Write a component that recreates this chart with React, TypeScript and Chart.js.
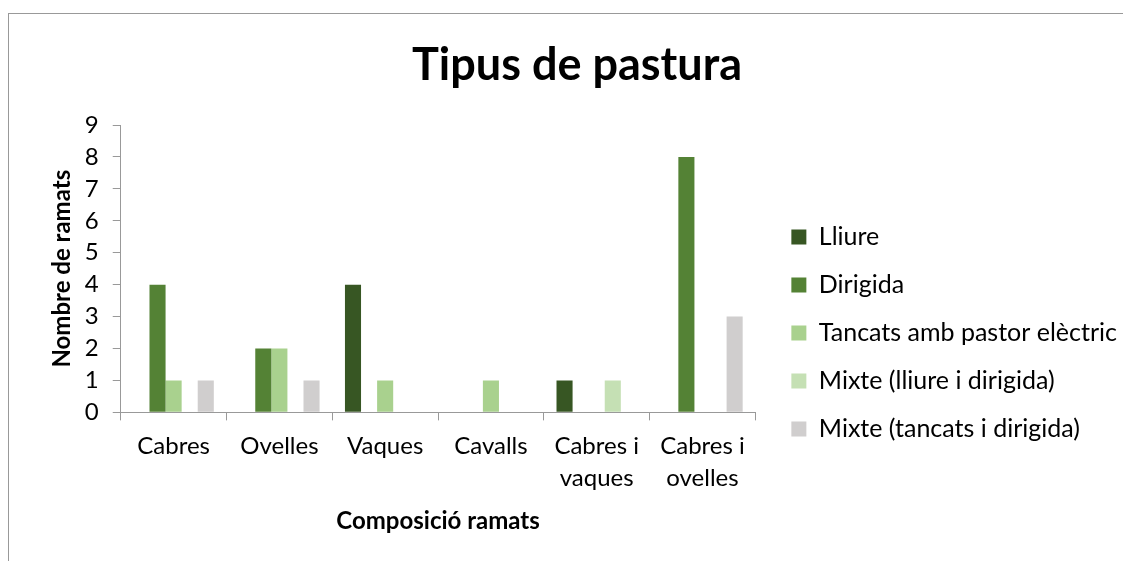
import React, { useEffect, useRef } from "react";
import { Chart, registerables } from "chart.js";

Chart.register(...registerables);

const categories: (string | string[])[] = ["Cabres", "Ovelles", "Vaques", "Cavalls", ["Cabres i", "vaques"], ["Cabres i", "ovelles"]];
const seriesNames = ["Lliure", "Dirigida", "Tancats amb pastor elèctric", "Mixte (lliure i dirigida)", "Mixte (tancats i dirigida)"];
const lliure = [0, 0, 4, 0, 1, 0];
const dirigida = [4, 2, 0, 0, 0, 8];
const tancats = [1, 2, 1, 1, 0, 0];
const mixteLliure = [0, 0, 0, 0, 1, 0];
const mixteTancats = [1, 1, 0, 0, 0, 3];
const colors = ["#375623", "#548235", "#A9D18E", "#C5E0B4", "#D0CECE"];

const FONT = "Lato, 'Liberation Sans', sans-serif";

// moves the legend block (Excel centres it on the whole chart, not the plot area)
const legendShift = {
  id: "legendShift",
  afterLayout(chart: any) {
    const l = chart.legend;
    if (!l) return;
    const dx = 13;
    const dy = 58;
    l.left += dx;
    l.right += dx;
    l.top += dy;
    l.bottom += dy;
  },
};

export default function App() {
  const ref = useRef<HTMLCanvasElement | null>(null);
  useEffect(() => {
    if (!ref.current) return;
    const values = [lliure, dirigida, tancats, mixteLliure, mixteTancats];
    const chart = new Chart(ref.current, {
      type: "bar",
      data: {
        labels: categories,
        datasets: seriesNames.map((name, i) => ({
          label: name,
          data: values[i],
          backgroundColor: colors[i],
          borderWidth: 0,
          categoryPercentage: 0.76,
          barPercentage: 1.0,
        })),
      },
      plugins: [legendShift],
      options: {
        animation: false,
        responsive: false,
        maintainAspectRatio: false,
        layout: { padding: { left: 31, right: 17, top: 0, bottom: 26 } },
        plugins: {
          title: {
            display: true,
            text: "Tipus de pastura",
            color: "#000",
            font: { family: FONT, size: 45, weight: "bold" },
            padding: { top: 24, bottom: 33 },
          },
          legend: {
            position: "right",
            align: "center",
            maxWidth: 420,
            labels: {
              color: "#000",
              font: { family: FONT, size: 25 },
              boxWidth: 15,
              boxHeight: 15,
              padding: 23,
            },
          },
          tooltip: { enabled: false },
        },
        scales: {
          x: {
            offset: true,
            grid: {
              display: true,
              offset: true,
              drawOnChartArea: false,
              drawTicks: true,
              tickLength: 8,
              color: "#999",
            },
            border: { display: true, color: "#999", width: 1 },
            ticks: { color: "#000", font: { family: FONT, size: 24, lineHeight: 1.33 }, padding: 10, maxRotation: 0, autoSkip: false },
            title: {
              display: true,
              text: "Composició ramats",
              color: "#000",
              font: { family: FONT, size: 24, weight: "bold" },
              padding: { top: 3, bottom: 0 },
            },
          },
          y: {
            min: 0,
            max: 9,
            ticks: { stepSize: 1, autoSkip: false, color: "#000", font: { family: FONT, size: 24 }, padding: 14 },
            grid: {
              display: true,
              drawOnChartArea: false,
              drawTicks: true,
              tickLength: 8,
              color: "#999",
            },
            border: { display: true, color: "#999", width: 1 },
            title: {
              display: true,
              text: "Nombre de ramats",
              color: "#000",
              font: { family: FONT, size: 24, weight: "bold" },
              padding: { top: 8, bottom: -6 },
            },
          },
        },
      },
    });
    return () => chart.destroy();
  }, []);
  return (
    <div style={{ marginTop: 5, borderLeft: "1px solid #999", borderTop: "1px solid #999", width: 1122, height: 548, overflow: "hidden" }}>
      <canvas ref={ref} width={1122} height={548} style={{ display: "block" }} />
    </div>
  );
}
